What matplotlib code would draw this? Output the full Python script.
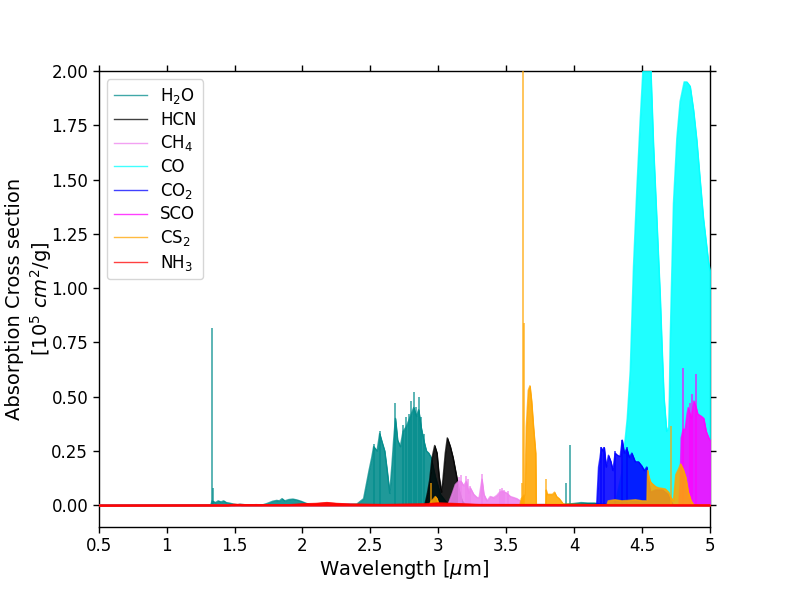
import matplotlib
matplotlib.use("Agg")
import matplotlib.pyplot as plt

# ---------------- data (wavelength in micron, cross section in 1e5 cm^2/g) -------------
species = ["H$_2$O", "HCN", "CH$_4$", "CO", "CO$_2$", "SCO", "CS$_2$", "NH$_3$"]
colors = ["darkcyan", "black", "violet", "cyan", "blue", "magenta", "orange", "red"]

h2o_wl = [0.50, 1.325, 1.335, 1.36, 1.38, 1.40, 1.42, 1.44, 1.46, 1.50, 1.55, 1.70, 1.74,
          1.78, 1.81, 1.83, 1.85, 1.87, 1.90, 1.93, 1.96, 1.99, 2.03, 2.07, 2.30, 2.40,
          2.45, 2.49, 2.51, 2.524, 2.549, 2.568, 2.586, 2.605, 2.623, 2.642, 2.659, 2.671,
          2.684, 2.70, 2.72, 2.74, 2.762, 2.782, 2.80, 2.819, 2.838, 2.855, 2.873, 2.892,
          2.912, 2.929, 2.946, 2.978, 3.015, 3.064, 3.10, 3.90, 4.00, 4.05, 4.10, 4.15,
          4.20, 5.00]
h2o_val = [0.0, 0.0, 0.02, 0.012, 0.02, 0.015, 0.02, 0.012, 0.01, 0.004, 0.0, 0.0, 0.008,
           0.018, 0.022, 0.02, 0.03, 0.02, 0.026, 0.028, 0.024, 0.018, 0.008, 0.002, 0.003,
           0.005, 0.03, 0.16, 0.22, 0.27, 0.25, 0.33, 0.29, 0.25, 0.16, 0.055, 0.19, 0.30,
           0.40, 0.30, 0.27, 0.34, 0.36, 0.39, 0.42, 0.45, 0.41, 0.44, 0.36, 0.30,
           0.25, 0.24, 0.22, 0.13, 0.05, 0.01, 0.002, 0.002, 0.008, 0.012, 0.01, 0.01,
           0.004, 0.0]
h2o_spk_wl = [1.331, 1.345, 2.524, 2.568, 2.684, 2.74, 2.762, 2.782, 2.80, 2.819, 2.838,
              2.855, 2.873, 2.892, 3.936, 3.971]
h2o_spk_val = [0.818, 0.08, 0.28, 0.34, 0.47, 0.37, 0.405, 0.42, 0.48, 0.52, 0.45,
               0.50, 0.405, 0.33, 0.10, 0.275]

hcn_wl = [0.50, 1.50, 1.54, 1.58, 2.90, 2.921, 2.936, 2.954, 2.973, 2.99, 3.005, 3.022,
          3.034, 3.051, 3.066, 3.088, 3.108, 3.132, 3.149, 3.174, 3.20, 3.90, 4.20, 4.50, 5.00]
hcn_val = [0.0, 0.0, 0.004, 0.002, 0.0, 0.06, 0.115, 0.22, 0.275, 0.24, 0.135, 0.06,
           0.12, 0.24, 0.31, 0.27, 0.22, 0.14, 0.08, 0.02, 0.002, 0.003, 0.004, 0.002, 0.0]
hcn_spk_wl = []
hcn_spk_val = []

ch4_wl = [0.50, 1.62, 1.66, 1.70, 2.15, 2.25, 2.35, 2.40, 3.07, 3.088, 3.10, 3.125, 3.149,
          3.167, 3.186, 3.206, 3.223, 3.235, 3.26, 3.285, 3.30, 3.321, 3.335, 3.358, 3.382,
          3.407, 3.43, 3.451, 3.468, 3.49, 3.505, 3.53, 3.555, 3.578, 3.603, 3.615, 5.00]
ch4_val = [0.0, 0.0, 0.003, 0.0, 0.0, 0.004, 0.006, 0.0, 0.0, 0.03, 0.05, 0.095, 0.11,
           0.11, 0.09, 0.11, 0.055, 0.08, 0.05, 0.035, 0.035, 0.12, 0.05, 0.02, 0.04,
           0.035, 0.045, 0.06, 0.065, 0.06, 0.055, 0.04, 0.035, 0.03, 0.02, 0.0, 0.0]
ch4_spk_wl = [3.149, 3.167, 3.206, 3.215, 3.235, 3.321, 3.451, 3.468, 3.48, 3.51]
ch4_spk_val = [0.13, 0.14, 0.135, 0.12, 0.09, 0.145, 0.075, 0.08, 0.07, 0.065]

co_wl = [0.50, 2.30, 2.34, 2.38, 2.42, 4.30, 4.35, 4.39, 4.412, 4.436, 4.461, 4.485, 4.505,
         4.535, 4.564, 4.583, 4.608, 4.632, 4.644, 4.66, 4.68, 4.695, 4.70, 4.706, 4.715,
         4.73, 4.755, 4.779, 4.809, 4.829, 4.853, 4.878, 4.902, 4.926, 4.951, 4.988, 5.00]
co_val = [0.0, 0.0, 0.004, 0.003, 0.0, 0.0, 0.15, 0.40, 0.62, 1.10, 1.46, 1.77, 2.0,
          2.1, 2.0, 1.66, 1.31, 0.97, 0.76, 0.50, 0.34, 0.36, 0.50, 0.76, 1.0,
          1.39, 1.69, 1.86, 1.95, 1.95, 1.93, 1.82, 1.68, 1.50, 1.32, 1.12, 1.08]
co_spk_wl = []
co_spk_val = []

co2_wl = [0.50, 4.165, 4.179, 4.19, 4.199, 4.21, 4.221, 4.235, 4.252, 4.27, 4.284, 4.301,
          4.318, 4.338, 4.353, 4.368, 4.387, 4.406, 4.424, 4.449, 4.473, 4.498, 4.515,
          4.534, 4.546, 4.559, 4.60, 4.65, 4.69, 4.71, 4.73, 5.00]
co2_val = [0.0, 0.0, 0.176, 0.22, 0.265, 0.25, 0.265, 0.176, 0.23, 0.2, 0.16, 0.24,
           0.23, 0.225, 0.3, 0.24, 0.26, 0.22, 0.24, 0.2, 0.2, 0.18, 0.16,
           0.176, 0.12, 0.06, 0.07, 0.07, 0.05, 0.02, 0.0, 0.0]
co2_spk_wl = [4.199, 4.221, 4.301, 4.353, 4.387]
co2_spk_val = [0.27, 0.27, 0.25, 0.30, 0.27]

sco_wl = [0.50, 4.77, 4.779, 4.787, 4.802, 4.816, 4.83, 4.839, 4.86, 4.88, 4.897, 4.909,
          4.934, 4.953, 4.971, 4.99, 5.00]
sco_val = [0.0, 0.0, 0.1, 0.31, 0.35, 0.35, 0.42, 0.45, 0.4, 0.48, 0.45, 0.42,
           0.41, 0.4, 0.34, 0.31, 0.3]
sco_spk_wl = [4.802, 4.85, 4.87, 4.897]
sco_spk_val = [0.63, 0.47, 0.51, 0.605]

cs2_wl = [0.50, 2.93, 2.94, 2.95, 2.965, 2.978, 2.99, 3.00, 3.02, 3.60, 3.61, 3.637, 3.647,
          3.662, 3.674, 3.686, 3.70, 3.716, 3.72, 3.79, 3.794, 3.80, 3.82, 3.84, 3.855,
          3.87, 3.89, 3.92, 4.24, 4.25, 4.30, 4.35, 4.40, 4.45, 4.50, 4.535, 4.54, 4.546,
          4.559, 4.572, 4.60, 4.62, 4.669, 4.694, 4.706, 4.73, 4.747, 4.766, 4.783, 4.802,
          4.82, 4.839, 4.86, 4.88, 5.00]
cs2_val = [0.0, 0.0, 0.01, 0.02, 0.03, 0.04, 0.03, 0.01, 0.0, 0.0, 0.03, 0.05, 0.36,
           0.53, 0.55, 0.48, 0.36, 0.24, 0.0, 0.0, 0.07, 0.05, 0.05, 0.05, 0.06,
           0.04, 0.03, 0.005, 0.0, 0.02, 0.025, 0.02, 0.022, 0.025, 0.02, 0.02, 0.16, 0.14,
           0.11, 0.1, 0.085, 0.08, 0.075, 0.06, 0.04, 0.02, 0.14, 0.165, 0.19, 0.165,
           0.13, 0.06, 0.02, 0.0, 0.0]
cs2_spk_wl = [2.946, 3.615, 3.625, 3.628, 3.794, 4.713]
cs2_spk_val = [0.10, 0.10, 2.5, 0.84, 0.12, 0.365]

nh3_wl = [0.50, 1.45, 1.50, 1.55, 1.90, 2.00, 2.10, 2.18, 2.25, 2.35, 2.60, 2.90, 3.00,
          3.10, 3.30, 4.00, 5.00]
nh3_val = [0.0, 0.001, 0.004, 0.002, 0.002, 0.006, 0.008, 0.012, 0.008, 0.005, 0.003,
           0.006, 0.01, 0.008, 0.003, 0.002, 0.001]
nh3_spk_wl = []
nh3_spk_val = []

bands = [(h2o_wl, h2o_val, h2o_spk_wl, h2o_spk_val),
         (hcn_wl, hcn_val, hcn_spk_wl, hcn_spk_val),
         (ch4_wl, ch4_val, ch4_spk_wl, ch4_spk_val),
         (co_wl, co_val, co_spk_wl, co_spk_val),
         (co2_wl, co2_val, co2_spk_wl, co2_spk_val),
         (sco_wl, sco_val, sco_spk_wl, sco_spk_val),
         (cs2_wl, cs2_val, cs2_spk_wl, cs2_spk_val),
         (nh3_wl, nh3_val, nh3_spk_wl, nh3_spk_val)]

x_ticks = [0.5, 1, 1.5, 2, 2.5, 3, 3.5, 4, 4.5, 5]
x_tick_labels = ["0.5", "1", "1.5", "2", "2.5", "3", "3.5", "4", "4.5", "5"]
y_ticks = [0.0, 0.25, 0.5, 0.75, 1.0, 1.25, 1.5, 1.75, 2.0]

# ---------------- plot ---------------------------------------------------------------
fig = plt.figure(figsize=(7.89, 5.92), dpi=100)
ax = fig.add_subplot(111)

for i, (name, c, (wl, val, swl, sval)) in enumerate(zip(species, colors, bands)):
    z = 2 + i
    edge = 1.2 if name == "NH$_3$" else 0.6
    ax.fill_between(wl, 0, val, color=c, alpha=0.88, lw=edge, zorder=z)
    if swl:
        ax.vlines(swl, 0, sval, color=c, alpha=0.75, lw=1.2, zorder=z)
    ax.plot(wl, val, color=c, alpha=0.75, lw=1.0, label=name, zorder=z)

ax.set_xlim(0.5, 5.0)
ax.set_ylim(-0.1, 2.0)
ax.set_xticks(x_ticks)
ax.set_xticklabels(x_tick_labels)
ax.set_yticks(y_ticks)
ax.set_yticklabels(["%.2f" % v for v in y_ticks])
ax.tick_params(direction="out", top=True, right=True, labelsize=12, width=1.0, length=4)
for s in ax.spines.values():
    s.set_linewidth(1.0)

ax.set_xlabel("Wavelength [$\\mu$m]", fontsize=14, labelpad=2)
ax.set_ylabel("Absorption Cross section\n[10$^5$ $cm^2$/g]", fontsize=14)
ax.yaxis.set_label_coords(-0.073, 0.5)
ax.legend(loc="upper left", fontsize=12, labelspacing=0.28)

fig.savefig("out.png", dpi=100)
